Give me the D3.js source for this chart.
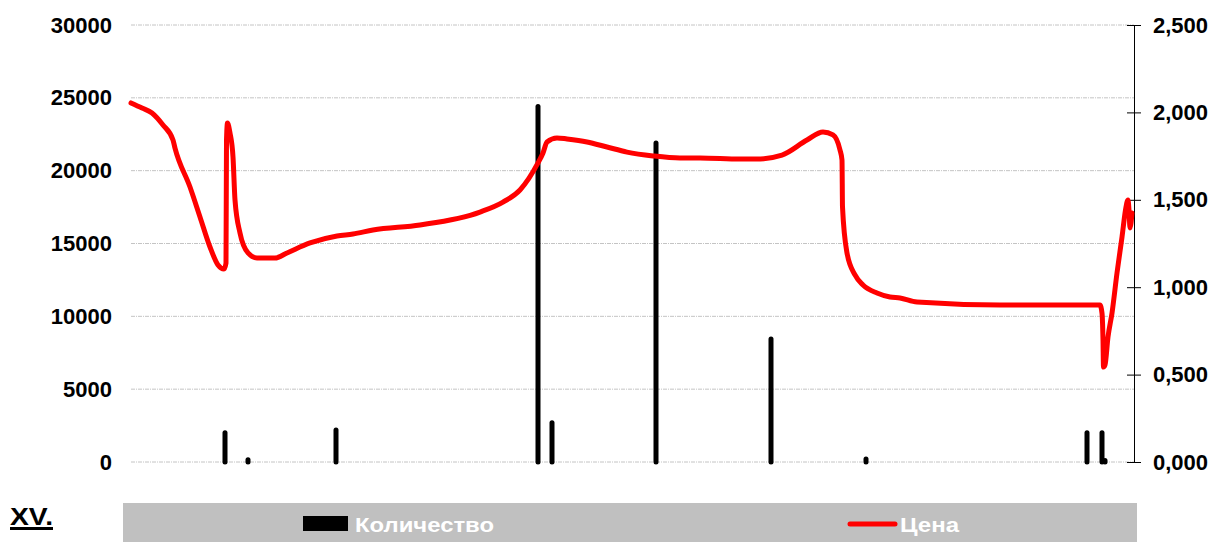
<!DOCTYPE html>
<html>
<head>
<meta charset="utf-8">
<script src="https://cdn.jsdelivr.net/npm/d3@7"></script>
<style>
  body { margin: 0; background: #fff; }
  text { font-family: Arial, "Liberation Sans", sans-serif; font-weight: bold; }
</style>
</head>
<body>
<div id="chart-area"></div>
<script>
// Количество (bars, left axis) - day index and quantity
var qtyDays = [94, 117, 205, 407, 421, 525, 640, 735, 956, 971, 974];
var qtyValues = [2000, 150, 2200, 24400, 2700, 21900, 8450, 200, 2000, 2000, 100];

// Цена (line, right axis) - day index and price
var priceDays = [0, 11, 21, 32, 42, 44, 59, 69, 79, 87, 93, 95, 95.5, 96.5, 99, 102, 104, 109, 117, 126,
  144, 156, 179, 206, 222, 242, 289, 349, 372, 389, 407, 412, 416, 426, 436, 456, 476, 496, 522, 549,
  569, 609, 626, 651, 676, 692, 702, 709, 711, 711.5, 716, 724, 732, 746, 759, 769, 786, 869, 969, 971,
  972, 972.5, 974, 977, 981, 986, 991, 995, 997, 998, 999, 1001];
var priceValues = [2.054, 2.025, 1.997, 1.928, 1.842, 1.796, 1.573, 1.402, 1.230, 1.127, 1.104, 1.138, 1.842, 1.939, 1.882, 1.745, 1.499, 1.310, 1.196, 1.167,
  1.167, 1.196, 1.253, 1.293, 1.304, 1.327, 1.356, 1.430, 1.487, 1.556, 1.711, 1.768, 1.831, 1.854, 1.848, 1.831, 1.802, 1.773, 1.751, 1.739,
  1.739, 1.733, 1.733, 1.756, 1.842, 1.888, 1.871, 1.785, 1.728, 1.459, 1.196, 1.070, 1.013, 0.967, 0.944, 0.938, 0.915, 0.898, 0.898, 0.852,
  0.698, 0.543, 0.555, 0.715, 0.852, 1.081, 1.287, 1.459, 1.499, 1.442, 1.339, 1.424];

var leftTicks = [0, 5000, 10000, 15000, 20000, 25000, 30000];
var rightTicks = [0, 0.5, 1, 1.5, 2, 2.5];

var margin = { left: 131, right: 79, top: 25, bottom: 80 };
var width = 1213 - margin.left - margin.right;
var height = 542 - margin.top - margin.bottom;

var svg = d3.select('#chart-area').append('svg')
    .attr('width', 1213)
    .attr('height', 542);

var g = svg.append('g')
    .attr('transform', 'translate(' + margin.left + ',' + margin.top + ')');

var x = d3.scaleLinear().domain([0, 1003]).range([0, width]);
var y = d3.scaleLinear().domain([0, 30000]).range([height, 0]);
var y2 = d3.scaleLinear().domain([0, 2.5]).range([height, 0]);

var ruFormat = d3.formatLocale({ decimal: ',', thousands: ' ', grouping: [3], currency: ['', ''] }).format('.3f');

// gridlines
g.selectAll('.grid').data(leftTicks).enter().append('line')
    .attr('class', 'grid')
    .attr('x1', 0).attr('x2', width)
    .attr('y1', d => y(d)).attr('y2', d => y(d))
    .attr('stroke', '#c4c4c4')
    .attr('stroke-width', 1)
    .attr('stroke-dasharray', '4,1,1,1');

// left axis
var yAxisGroup = g.append('g')
    .call(d3.axisLeft(y).tickValues(leftTicks).tickSize(0).tickPadding(19).tickFormat(d3.format('d')));
yAxisGroup.select('.domain').remove();
yAxisGroup.selectAll('text')
    .attr('style', 'font-size: 22px')
    .attr('fill', '#000');

// right axis
var y2AxisGroup = g.append('g')
    .attr('transform', 'translate(' + width + ',0)')
    .call(d3.axisRight(y2).tickValues(rightTicks).tickSize(7).tickSizeOuter(0).tickPadding(12).tickFormat(ruFormat));
y2AxisGroup.select('.domain').attr('stroke', '#000');
y2AxisGroup.selectAll('.tick line').attr('x1', -7).attr('stroke', '#000');
y2AxisGroup.selectAll('text')
    .attr('style', 'font-size: 22px')
    .attr('fill', '#000');

// bars (Количество)
g.selectAll('.bar').data(qtyDays).enter().append('line')
    .attr('class', 'bar')
    .attr('x1', d => x(d)).attr('x2', d => x(d))
    .attr('y1', y(0))
    .attr('y2', (d, i) => y(qtyValues[i]))
    .attr('stroke', '#000')
    .attr('stroke-width', 5)
    .attr('stroke-linecap', 'round');

// price line (Цена)
var priceData = priceDays.map((d, i) => ({ t: d, v: priceValues[i] }));
var line = d3.line()
    .x(d => x(d.t))
    .y(d => y2(d.v))
    .curve(d3.curveMonotoneX);

g.append('path')
    .datum(priceData)
    .attr('d', line)
    .attr('fill', 'none')
    .attr('stroke', '#ff0000')
    .attr('stroke-width', 5)
    .attr('stroke-linejoin', 'round')
    .attr('stroke-linecap', 'round');

// legend
var legend = svg.append('g');
legend.append('rect')
    .attr('x', 123).attr('y', 503)
    .attr('width', 1014).attr('height', 39)
    .attr('fill', '#c0c0c0');
legend.append('rect')
    .attr('x', 303).attr('y', 516)
    .attr('width', 45).attr('height', 15)
    .attr('fill', '#000');
legend.append('text')
    .attr('x', 355).attr('y', 532)
    .attr('style', 'font-size: 21px')
    .attr('textLength', 139)
    .attr('lengthAdjust', 'spacingAndGlyphs')
    .attr('fill', '#fff')
    .text('Количество');
legend.append('line')
    .attr('x1', 850).attr('x2', 895)
    .attr('y1', 524).attr('y2', 524)
    .attr('stroke', '#ff0000')
    .attr('stroke-width', 5)
    .attr('stroke-linecap', 'round');
legend.append('text')
    .attr('x', 900).attr('y', 532)
    .attr('style', 'font-size: 21px')
    .attr('textLength', 59)
    .attr('lengthAdjust', 'spacingAndGlyphs')
    .attr('fill', '#fff')
    .text('Цена');

// XV. label
svg.append('text')
    .attr('x', 10).attr('y', 525)
    .attr('style', 'font-size: 24px')
    .attr('textLength', 43)
    .attr('lengthAdjust', 'spacingAndGlyphs')
    .attr('fill', '#000')
    .text('XV.');
svg.append('rect')
    .attr('x', 10).attr('y', 527)
    .attr('width', 43).attr('height', 3)
    .attr('fill', '#000');
</script>
</body>
</html>
